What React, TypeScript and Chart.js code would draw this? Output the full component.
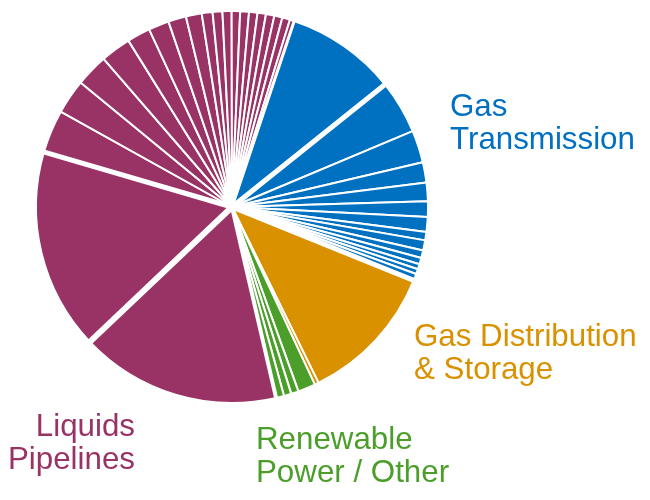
import React, { useEffect, useRef } from "react";
import { Chart, registerables } from "chart.js";
Chart.register(...registerables);

// Slice sizes (share of the pie, in degrees), clockwise from the first Gas Transmission slice
const gasTransmission = [32.8, 15.9, 9.6, 6.0, 5.5, 4.6, 4.4, 2.5, 3.0, 2.3, 1.9, 1.5, 1.5, 2.0];
const gasDistribution = [41.8, 1.2];
const renewablePower = [5.2, 2.2, 2.2, 2.4];
const liquidsPipelines = [59.5, 59.8, 12.8, 10.3, 9.7, 9.0, 6.9, 6.1, 5.3, 4.7, 3.2, 2.9, 2.7, 2.5, 2.6, 2.5, 2.5, 2.5, 2.4, 2.3, 1.3];
const segmentNames = ["Gas Transmission", "Gas Distribution & Storage", "Renewable Power / Other", "Liquids Pipelines"];

const BLUE = "#0070C0";
const ORANGE = "#D99100";
const GREEN = "#4C9E2B";
const PURPLE = "#993366";
const FONT = '"Liberation Sans", Arial, sans-serif';

const groups = [
  { name: segmentNames[0], values: gasTransmission, color: BLUE },
  { name: segmentNames[1], values: gasDistribution, color: ORANGE },
  { name: segmentNames[2], values: renewablePower, color: GREEN },
  { name: segmentNames[3], values: liquidsPipelines, color: PURPLE },
];

// wider white separators (style): slice index -> width of the gap before it
const wideGaps: Record<number, number> = { 0: 3, 1: 5, 14: 5, 20: 4, 21: 6, 22: 5 };

const gapPlugin = {
  id: "wideGaps",
  afterDatasetsDraw(chart: any) {
    const meta = chart.getDatasetMeta(0);
    const ctx = chart.ctx;
    ctx.save();
    ctx.strokeStyle = "#ffffff";
    ctx.lineCap = "butt";
    meta.data.forEach((arc: any, i: number) => {
      const w = wideGaps[i];
      if (!w) return;
      const p = arc.getProps(["x", "y", "startAngle", "outerRadius"], true);
      ctx.lineWidth = w;
      ctx.beginPath();
      ctx.moveTo(p.x, p.y);
      ctx.lineTo(p.x + Math.cos(p.startAngle) * (p.outerRadius + 4), p.y + Math.sin(p.startAngle) * (p.outerRadius + 4));
      ctx.stroke();
    });
    ctx.restore();
  },
};

export default function App() {
  const ref = useRef<HTMLCanvasElement | null>(null);
  useEffect(() => {
    if (!ref.current) return;
    const labels: string[] = [];
    const data: number[] = [];
    const colors: string[] = [];
    groups.forEach((g) => {
      g.values.forEach((v, i) => {
        labels.push(`${g.name} ${i + 1}`);
        data.push(v);
        colors.push(g.color);
      });
    });
    const chart = new Chart(ref.current, {
      type: "pie",
      data: {
        labels,
        datasets: [
          {
            data,
            backgroundColor: colors,
            borderColor: "#ffffff",
            borderWidth: 2,
          },
        ],
      },
      options: {
        responsive: false,
        animation: false,
        rotation: 18.5,
        radius: 196,
        layout: { padding: { left: 0, right: 186, top: 0, bottom: 86 } },
        plugins: { legend: { display: false }, tooltip: { enabled: false } },
      } as any,
      plugins: [gapPlugin],
    });
    return () => chart.destroy();
  }, []);

  const label = (text: string[], color: string, pos: React.CSSProperties) => (
    <div
      style={{
        position: "absolute",
        fontFamily: FONT,
        fontSize: 31.3,
        lineHeight: "33px",
        color,
        whiteSpace: "nowrap",
        ...pos,
      }}
    >
      {text.map((t, i) => (
        <div key={i}>{t}</div>
      ))}
    </div>
  );

  return (
    <div style={{ position: "fixed", left: 0, top: 0, width: 650, height: 500, background: "#fff" }}>
      <canvas ref={ref} width={650} height={500} style={{ position: "absolute", left: 0, top: 0 }} />
      {label(["Gas", "Transmission"], BLUE, { left: 450, top: 89 })}
      {label(["Gas Distribution", "& Storage"], ORANGE, { left: 414, top: 319 })}
      {label(["Liquids", "Pipelines"], PURPLE, { right: 515, top: 409, textAlign: "right" })}
      {label(["Renewable", "Power / Other"], GREEN, { left: 256, top: 422 })}
    </div>
  );
}
